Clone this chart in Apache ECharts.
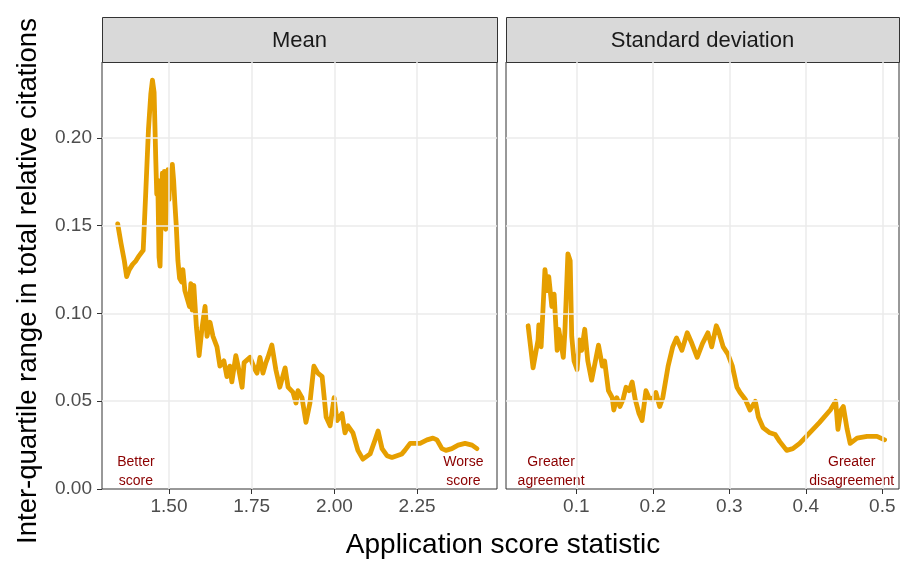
<!DOCTYPE html>
<html>
<head>
<meta charset="utf-8">
<script src="https://cdn.jsdelivr.net/npm/echarts@6/dist/echarts.min.js"></script>
<style>
  html, body { margin: 0; padding: 0; background: #ffffff; }
  #chart { width: 901px; height: 562px; }
</style>
</head>
<body>
<div id="chart"></div>
<script>
// Inter-quartile range of total relative citations vs. application score mean
const meanX = [1.345, 1.355, 1.365, 1.372, 1.380, 1.390, 1.400, 1.410, 1.422, 1.430,
  1.438, 1.445, 1.450, 1.455, 1.460, 1.463, 1.466, 1.470, 1.473, 1.477,
  1.480, 1.483, 1.486, 1.490, 1.493, 1.497, 1.500, 1.503, 1.506, 1.510,
  1.514, 1.518, 1.522, 1.527, 1.532, 1.538, 1.542, 1.548, 1.554, 1.562,
  1.566, 1.570, 1.575, 1.583, 1.591, 1.600, 1.609, 1.615, 1.624, 1.633,
  1.645, 1.654, 1.666, 1.675, 1.684, 1.690, 1.702, 1.709, 1.721, 1.727,
  1.745, 1.760, 1.766, 1.775, 1.784, 1.793, 1.799, 1.811, 1.823, 1.835,
  1.851, 1.860, 1.875, 1.884, 1.890, 1.902, 1.914, 1.926, 1.938, 1.950,
  1.963, 1.975, 1.987, 1.999, 2.008, 2.023, 2.032, 2.041, 2.056, 2.071,
  2.086, 2.108, 2.123, 2.132, 2.144, 2.159, 2.174, 2.189, 2.204, 2.213,
  2.229, 2.244, 2.259, 2.280, 2.298, 2.310, 2.325, 2.337, 2.355, 2.374,
  2.395, 2.416, 2.431];
const meanIQR = [0.151, 0.140, 0.130, 0.121, 0.125, 0.128, 0.130, 0.133, 0.136, 0.170,
  0.205, 0.225, 0.233, 0.226, 0.188, 0.168, 0.176, 0.132, 0.127, 0.160,
  0.180, 0.150, 0.181, 0.148, 0.160, 0.182, 0.165, 0.181, 0.172, 0.185,
  0.176, 0.162, 0.150, 0.130, 0.120, 0.118, 0.125, 0.113, 0.112, 0.104,
  0.117, 0.102, 0.116, 0.092, 0.076, 0.092, 0.104, 0.087, 0.095, 0.087,
  0.081, 0.070, 0.073, 0.064, 0.070, 0.061, 0.076, 0.070, 0.058, 0.072,
  0.075, 0.068, 0.066, 0.075, 0.066, 0.072, 0.075, 0.082, 0.068, 0.058,
  0.069, 0.058, 0.055, 0.049, 0.056, 0.052, 0.038, 0.049, 0.070, 0.066,
  0.064, 0.041, 0.036, 0.052, 0.039, 0.043, 0.032, 0.036, 0.032, 0.022,
  0.017, 0.020, 0.028, 0.033, 0.023, 0.019, 0.018, 0.019, 0.020, 0.022,
  0.026, 0.026, 0.026, 0.028, 0.029, 0.028, 0.023, 0.022, 0.023, 0.025,
  0.026, 0.025, 0.023];

// Same measure vs. application score standard deviation
const sdX = [0.037, 0.0435, 0.050, 0.051, 0.054, 0.059, 0.062, 0.064, 0.068, 0.071,
  0.075, 0.077, 0.083, 0.085, 0.089, 0.092, 0.094, 0.097, 0.101, 0.104,
  0.107, 0.111, 0.115, 0.120, 0.125, 0.129, 0.134, 0.137, 0.142, 0.147,
  0.149, 0.153, 0.157, 0.161, 0.165, 0.169, 0.173, 0.177, 0.182, 0.186,
  0.191, 0.195, 0.200, 0.204, 0.209, 0.213, 0.220, 0.226, 0.231, 0.238,
  0.245, 0.251, 0.258, 0.265, 0.272, 0.277, 0.283, 0.286, 0.292, 0.298,
  0.304, 0.310, 0.314, 0.321, 0.327, 0.334, 0.338, 0.344, 0.353, 0.360,
  0.366, 0.375, 0.383, 0.392, 0.405, 0.418, 0.432, 0.439, 0.442, 0.446,
  0.449, 0.454, 0.458, 0.467, 0.480, 0.493, 0.503];
const sdIQR = [0.093, 0.069, 0.085, 0.0935, 0.081, 0.125, 0.113, 0.121, 0.104, 0.111,
  0.079, 0.091, 0.075, 0.089, 0.134, 0.130, 0.087, 0.073, 0.068, 0.085,
  0.079, 0.091, 0.073, 0.062, 0.073, 0.082, 0.070, 0.073, 0.056, 0.052,
  0.045, 0.052, 0.047, 0.051, 0.058, 0.056, 0.061, 0.051, 0.043, 0.039,
  0.056, 0.052, 0.051, 0.055, 0.047, 0.052, 0.070, 0.081, 0.086, 0.079,
  0.089, 0.083, 0.075, 0.083, 0.089, 0.081, 0.093, 0.090, 0.081, 0.077,
  0.070, 0.058, 0.055, 0.051, 0.045, 0.050, 0.041, 0.035, 0.032, 0.031,
  0.027, 0.022, 0.023, 0.026, 0.032, 0.038, 0.045, 0.050, 0.034, 0.045,
  0.047, 0.034, 0.026, 0.029, 0.030, 0.030, 0.028];

const panelTitles = ['Mean', 'Standard deviation'];
const meanTicks = [1.5, 1.75, 2.0, 2.25];
const sdTicks = [0.1, 0.2, 0.3, 0.4, 0.5];
const yTicks = [0, 0.05, 0.10, 0.15, 0.20];
const meanNotes = [[1.40, 0.0097, 'Better\nscore'], [2.39, 0.0097, 'Worse\nscore']];
const sdNotes = [[0.067, 0.0097, 'Greater\nagreement'], [0.46, 0.0097, 'Greater\ndisagreement']];
const xTitle = 'Application score statistic';
const yTitle = 'Inter-quartile range in total relative citations';

const FONT = '"Liberation Sans", Arial, sans-serif';
const LINE_COLOR = '#E69F00';
const GRID_COLOR = '#EBEBEB';
const NOTE_COLOR = '#8B0000';

const panels = [
  { left: 102, width: 395, xMin: 1.2975, xMax: 2.4915, ticks: meanTicks, dec: 2, notes: meanNotes },
  { left: 506, width: 393, xMin: 0.0081, xMax: 0.5218, ticks: sdTicks, dec: 1, notes: sdNotes }
];
const TOP = 62, HEIGHT = 427, STRIP_H = 45, Y_MAX = 0.2433;

const chart = echarts.init(document.getElementById('chart'), null, { renderer: 'canvas' });

const grids = panels.map(p => ({
  left: p.left, top: TOP, width: p.width, height: HEIGHT,
  show: true, borderColor: '#333333', borderWidth: 1, backgroundColor: '#ffffff',
  containLabel: false
}));

const xAxes = panels.map((p, i) => ({
  type: 'value', gridIndex: i, min: p.xMin, max: p.xMax,
  axisLine: { show: false },
  splitLine: { show: false },
  axisTick: { show: true, customValues: p.ticks, length: 5, lineStyle: { color: '#333333', width: 1 } },
  axisLabel: {
    show: true, customValues: p.ticks, margin: 8,
    formatter: v => v.toFixed(p.dec),
    color: '#4D4D4D', fontSize: 19, fontFamily: FONT
  }
}));

const yAxes = panels.map((p, i) => ({
  type: 'value', gridIndex: i, min: 0, max: Y_MAX,
  axisLine: { show: false },
  splitLine: { show: false },
  axisTick: { show: i === 0, customValues: yTicks, length: 5, lineStyle: { color: '#333333', width: 1 } },
  axisLabel: {
    show: i === 0, customValues: yTicks, margin: 10,
    formatter: v => v.toFixed(2),
    color: '#4D4D4D', fontSize: 19, fontFamily: FONT
  }
}));

// light major grid lines inside each panel
function gridSeries(p, idx) {
  return {
    type: 'line', xAxisIndex: idx, yAxisIndex: idx, z: 1, data: [], silent: true,
    markLine: {
      silent: true, symbol: 'none', animation: false,
      label: { show: false },
      lineStyle: { color: GRID_COLOR, width: 1.5, type: 'solid', opacity: 1 },
      emphasis: { disabled: true },
      data: [
        ...p.ticks.map(v => ({ xAxis: v })),
        ...yTicks.filter(v => v > 0).map(v => ({ yAxis: v }))
      ]
    }
  };
}

// direction notes along the bottom of each panel
function noteSeries(p, idx) {
  return {
    type: 'scatter', xAxisIndex: idx, yAxisIndex: idx, z: 2,
    data: p.notes, symbolSize: 0, silent: true,
    itemStyle: { color: NOTE_COLOR, opacity: 1 },
    label: {
      show: true, position: 'inside', opacity: 1,
      formatter: prm => prm.data[2],
      color: NOTE_COLOR, textBorderWidth: 0, textBorderColor: 'transparent',
      fontSize: 14, lineHeight: 19, fontFamily: FONT, align: 'center'
    }
  };
}

function curve(xs, ys, idx) {
  return {
    type: 'line', xAxisIndex: idx, yAxisIndex: idx, z: 3,
    data: xs.map((x, i) => [x, ys[i]]),
    showSymbol: false, symbol: 'none', silent: true,
    lineStyle: { color: LINE_COLOR, width: 4.8, join: 'round', cap: 'round' }
  };
}

const graphic = [];
panels.forEach((p, i) => {
  graphic.push({
    type: 'rect', silent: true,
    shape: { x: p.left + 0.5, y: TOP - STRIP_H + 0.5, width: p.width, height: STRIP_H },
    style: { fill: '#D9D9D9', stroke: '#333333', lineWidth: 1 }
  });
  graphic.push({
    type: 'text', silent: true, x: p.left + p.width / 2, y: TOP - STRIP_H / 2 + 1,
    style: { text: panelTitles[i], fill: '#1A1A1A', fontSize: 22, fontFamily: FONT, align: 'center', verticalAlign: 'middle' }
  });
});
graphic.push({
  type: 'text', silent: true, x: 503, y: 545,
  style: { text: xTitle, fill: '#000000', fontSize: 28, fontFamily: FONT, align: 'center', verticalAlign: 'middle' }
});
graphic.push({
  type: 'text', silent: true, x: 28, y: 281, rotation: Math.PI / 2,
  style: { text: yTitle, fill: '#000000', fontSize: 27.5, fontFamily: FONT, align: 'center', verticalAlign: 'middle' }
});

chart.setOption({
  animation: false,
  backgroundColor: '#ffffff',
  grid: grids,
  xAxis: xAxes,
  yAxis: yAxes,
  series: [
    gridSeries(panels[0], 0),
    gridSeries(panels[1], 1),
    noteSeries(panels[0], 0),
    noteSeries(panels[1], 1),
    curve(meanX, meanIQR, 0),
    curve(sdX, sdIQR, 1)
  ],
  graphic: graphic
});
</script>
</body>
</html>
